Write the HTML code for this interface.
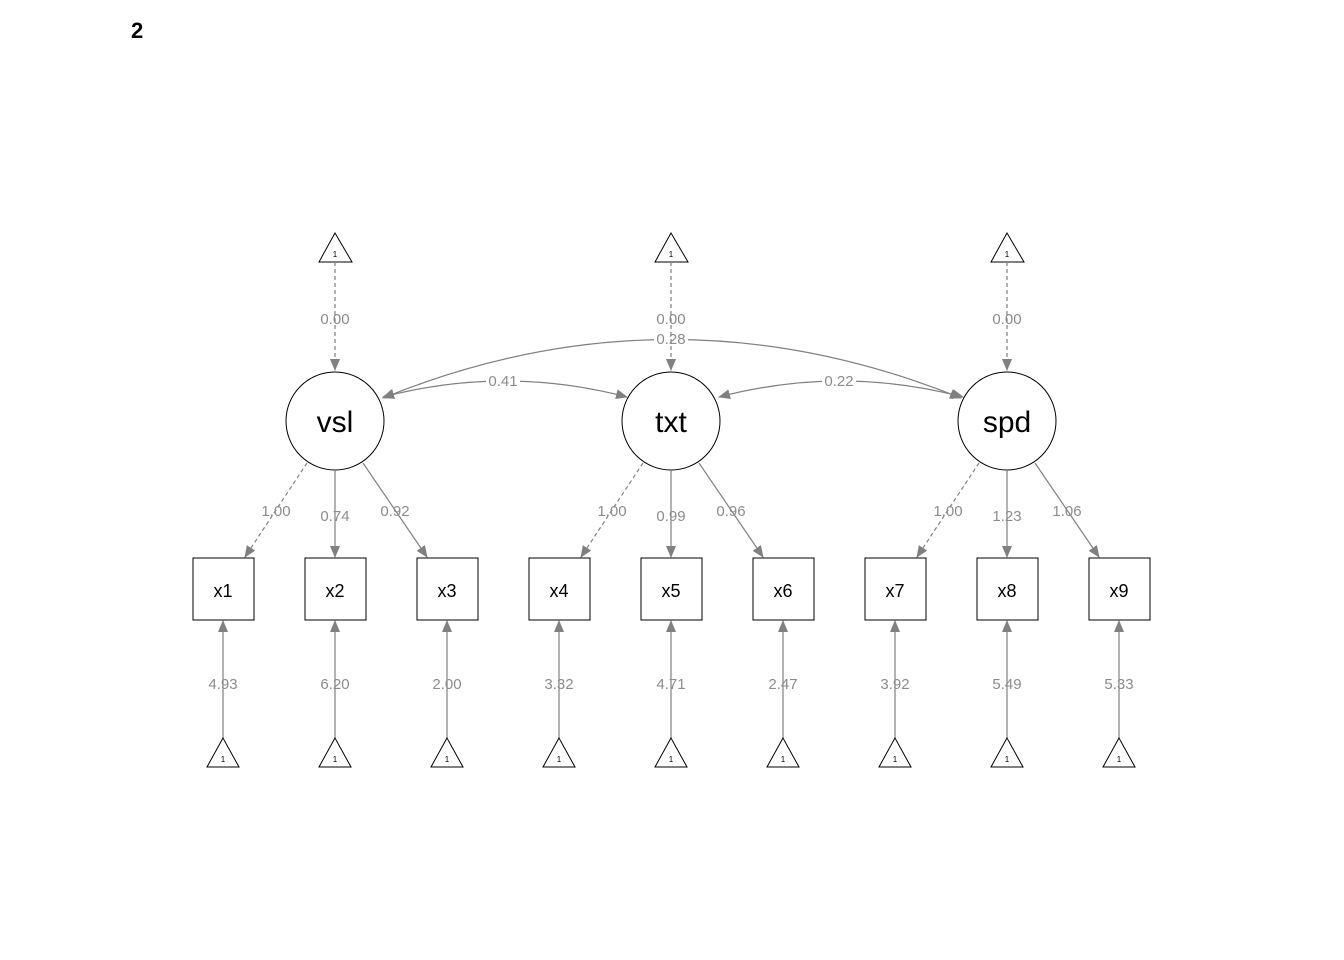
<!DOCTYPE html>
<html><head><meta charset="utf-8"><style>
html,body{margin:0;padding:0;background:#fff;}
svg{display:block;}
text{font-family:"Liberation Sans",Arial,sans-serif;}
.lbl{fill:#8c8c8c;font-size:15px;text-anchor:middle;}
.e{stroke:#808080;stroke-width:1.2;fill:none;}
.d{stroke-dasharray:4,3;}
.n{fill:#fff;stroke:#000;stroke-width:1;}
.t1{font-size:8px;text-anchor:middle;fill:#000;}
</style></head><body>
<svg width="1344" height="960" viewBox="0 0 1344 960" xmlns="http://www.w3.org/2000/svg">
<defs>
<marker id="a" markerWidth="12" markerHeight="10" refX="11" refY="5" orient="auto-start-reverse" markerUnits="userSpaceOnUse">
<path d="M0,0 L12,5 L0,10 Z" fill="#808080"/>
</marker>
</defs>
<text x="131" y="38" font-size="22" font-weight="bold" fill="#000">2</text>

<!-- covariances -->
<path class="e" d="M383,397 Q505,365 627,397" marker-start="url(#a)" marker-end="url(#a)"/>
<path class="e" d="M719,397 Q841,365 963,397" marker-start="url(#a)" marker-end="url(#a)"/>
<path class="e" d="M383,398 Q671,281 961,398" marker-start="url(#a)" marker-end="url(#a)"/>
<rect x="486" y="373" width="34" height="15" fill="#fff"/>
<text class="lbl" x="503" y="386">0.41</text>
<rect x="822" y="373" width="34" height="15" fill="#fff"/>
<text class="lbl" x="839" y="386">0.22</text>
<rect x="654" y="331" width="34" height="15" fill="#fff"/>
<text class="lbl" x="671" y="344">0.28</text>

<g id="grp">
<!-- top triangle & mean -->
<polygon class="n" points="335,233 319,262 352,262"/>
<text class="t1" x="335" y="257">1</text>
<line class="e d" x1="335" y1="262" x2="335" y2="370" marker-end="url(#a)"/>
<text class="lbl" x="335" y="324">0.00</text>
<!-- latent -->
<circle class="n" cx="335" cy="421" r="49"/>
<!-- loadings -->
<line class="e d" x1="307" y1="463" x2="245" y2="557" marker-end="url(#a)"/>
<line class="e" x1="335" y1="470" x2="335" y2="557" marker-end="url(#a)"/>
<line class="e" x1="363" y1="463" x2="427" y2="557" marker-end="url(#a)"/>
<!-- boxes -->
<rect class="n" x="193" y="558" width="61" height="62"/>
<rect class="n" x="305" y="558" width="61" height="62"/>
<rect class="n" x="417" y="558" width="61" height="62"/>
<!-- intercepts -->
<line class="e" x1="223" y1="738" x2="223" y2="621" marker-end="url(#a)"/>
<line class="e" x1="335" y1="738" x2="335" y2="621" marker-end="url(#a)"/>
<line class="e" x1="447" y1="738" x2="447" y2="621" marker-end="url(#a)"/>
<polygon class="n" points="223,738 207,767 239,767"/>
<polygon class="n" points="335,738 319,767 351,767"/>
<polygon class="n" points="447,738 431,767 463,767"/>
<text class="t1" x="223" y="762">1</text>
<text class="t1" x="335" y="762">1</text>
<text class="t1" x="447" y="762">1</text>
</g>
<use href="#grp" x="336"/>
<use href="#grp" x="672"/>

<!-- latent names -->
<g font-size="30" text-anchor="middle" fill="#000" font-family="Liberation Sans,Arial,sans-serif">
<text x="335" y="432">vsl</text>
<text x="671" y="432">txt</text>
<text x="1007" y="432">spd</text>
</g>
<!-- loading labels -->
<text class="lbl" x="276" y="516">1.00</text><text class="lbl" x="335" y="521">0.74</text><text class="lbl" x="395" y="516">0.92</text>
<text class="lbl" x="612" y="516">1.00</text><text class="lbl" x="671" y="521">0.99</text><text class="lbl" x="731" y="516">0.96</text>
<text class="lbl" x="948" y="516">1.00</text><text class="lbl" x="1007" y="521">1.23</text><text class="lbl" x="1067" y="516">1.06</text>
<!-- box labels -->
<g font-size="18" text-anchor="middle" fill="#000" font-family="Liberation Sans,Arial,sans-serif">
<text x="223" y="597">x1</text><text x="335" y="597">x2</text><text x="447" y="597">x3</text>
<text x="559" y="597">x4</text><text x="671" y="597">x5</text><text x="783" y="597">x6</text>
<text x="895" y="597">x7</text><text x="1007" y="597">x8</text><text x="1119" y="597">x9</text>
</g>
<!-- intercept labels -->
<text class="lbl" x="223" y="689">4.93</text><text class="lbl" x="335" y="689">6.20</text><text class="lbl" x="447" y="689">2.00</text>
<text class="lbl" x="559" y="689">3.32</text><text class="lbl" x="671" y="689">4.71</text><text class="lbl" x="783" y="689">2.47</text>
<text class="lbl" x="895" y="689">3.92</text><text class="lbl" x="1007" y="689">5.49</text><text class="lbl" x="1119" y="689">5.33</text>
</svg>
</body></html>
